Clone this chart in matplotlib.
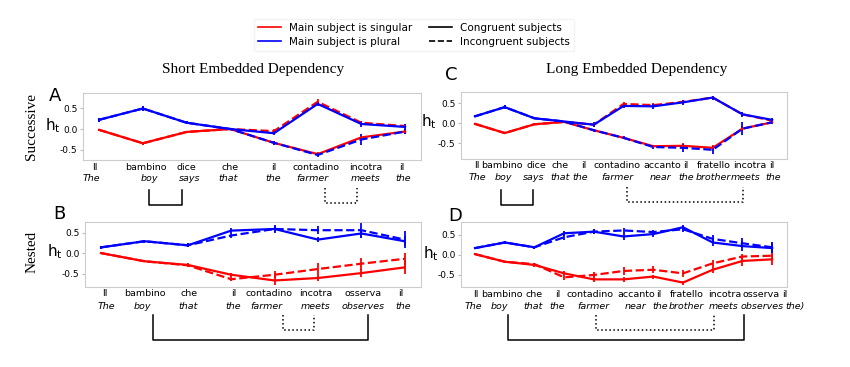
import numpy as np
import matplotlib
matplotlib.use('Agg')
import matplotlib.pyplot as plt
from matplotlib.lines import Line2D

plt.rcParams['mathtext.fontset'] = 'dejavusans'
plt.rcParams['axes.unicode_minus'] = False

# word labels (Italian / English gloss)
words_A = ['Il', 'bambino', 'dice', 'che', 'il', 'contadino', 'incotra', 'il']
eng_A = ['The', 'boy', 'says', 'that', 'the', 'farmer', 'meets', 'the']
words_B = ['Il', 'bambino', 'che', 'il', 'contadino', 'incotra', 'osserva', 'il']
eng_B = ['The', 'boy', 'that', 'the', 'farmer', 'meets', 'observes', 'the']
words_C = ['Il', 'bambino', 'dice', 'che', 'il', 'contadino', 'accanto', 'il', 'fratello', 'incotra', 'il']
eng_C = ['The', 'boy', 'says', 'that', 'the', 'farmer', 'near', 'the', 'brother', 'meets', 'the']
words_D = ['Il', 'bambino', 'che', 'il', 'contadino', 'accanto', 'il', 'fratello', 'incotra', 'osserva', 'il']
eng_D = ['The', 'boy', 'that', 'the', 'farmer', 'near', 'the', 'brother', 'meets', 'observes', 'the)']

# A: successive, short
A_sing_cong = [-0.02, -0.34, -0.07, 0.0, -0.33, -0.60, -0.20, -0.06]
A_sing_incong = [-0.02, -0.34, -0.07, 0.0, -0.05, 0.65, 0.15, 0.07]
A_plur_cong = [0.22, 0.49, 0.15, 0.0, -0.10, 0.60, 0.12, 0.05]
A_plur_incong = [0.22, 0.49, 0.15, 0.0, -0.33, -0.62, -0.25, -0.06]
A_sing_cong_err = [0.02, 0.04, 0.02, 0.02, 0.05, 0.04, 0.04, 0.06]
A_sing_incong_err = [0.02, 0.04, 0.02, 0.02, 0.06, 0.06, 0.05, 0.05]
A_plur_cong_err = [0.05, 0.06, 0.03, 0.02, 0.05, 0.05, 0.06, 0.08]
A_plur_incong_err = [0.05, 0.06, 0.03, 0.02, 0.05, 0.05, 0.13, 0.06]

# B: nested, short
B_sing_cong = [0.0, -0.20, -0.29, -0.53, -0.67, -0.61, -0.49, -0.35]
B_sing_incong = [0.0, -0.20, -0.30, -0.64, -0.53, -0.39, -0.26, -0.14]
B_plur_cong = [0.14, 0.29, 0.19, 0.55, 0.59, 0.33, 0.48, 0.29]
B_plur_incong = [0.14, 0.29, 0.19, 0.43, 0.59, 0.56, 0.56, 0.33]
B_sing_cong_err = [0.02, 0.03, 0.04, 0.05, 0.10, 0.08, 0.10, 0.17]
B_sing_incong_err = [0.02, 0.03, 0.04, 0.05, 0.08, 0.14, 0.15, 0.14]
B_plur_cong_err = [0.04, 0.04, 0.05, 0.06, 0.10, 0.06, 0.12, 0.12]
B_plur_incong_err = [0.04, 0.04, 0.05, 0.06, 0.08, 0.10, 0.18, 0.20]

# C: successive, long
C_sing_cong = [-0.02, -0.25, -0.03, 0.03, -0.18, -0.37, -0.58, -0.57, -0.62, -0.14, 0.02]
C_sing_incong = [-0.02, -0.25, -0.03, 0.03, -0.04, 0.48, 0.45, 0.53, 0.64, 0.22, 0.06]
C_plur_cong = [0.17, 0.40, 0.12, 0.04, -0.04, 0.43, 0.42, 0.52, 0.64, 0.22, 0.08]
C_plur_incong = [0.17, 0.40, 0.12, 0.04, -0.18, -0.37, -0.60, -0.62, -0.67, -0.14, 0.02]
C_sing_cong_err = [0.02, 0.03, 0.02, 0.02, 0.03, 0.03, 0.04, 0.06, 0.08, 0.06, 0.04]
C_sing_incong_err = [0.02, 0.03, 0.02, 0.02, 0.05, 0.04, 0.05, 0.05, 0.05, 0.05, 0.04]
C_plur_cong_err = [0.03, 0.05, 0.03, 0.02, 0.07, 0.05, 0.06, 0.06, 0.05, 0.06, 0.05]
C_plur_incong_err = [0.03, 0.05, 0.03, 0.02, 0.04, 0.04, 0.06, 0.10, 0.10, 0.17, 0.05]

# D: nested, long
D_sing_cong = [0.02, -0.17, -0.25, -0.46, -0.61, -0.61, -0.54, -0.69, -0.37, -0.15, -0.11]
D_sing_incong = [0.02, -0.17, -0.23, -0.56, -0.50, -0.40, -0.37, -0.46, -0.21, -0.04, -0.02]
D_plur_cong = [0.17, 0.31, 0.19, 0.54, 0.58, 0.46, 0.52, 0.69, 0.31, 0.22, 0.17]
D_plur_incong = [0.17, 0.31, 0.19, 0.44, 0.58, 0.61, 0.57, 0.64, 0.40, 0.29, 0.19]
D_sing_cong_err = [0.02, 0.03, 0.04, 0.05, 0.07, 0.06, 0.05, 0.05, 0.08, 0.12, 0.15]
D_sing_incong_err = [0.02, 0.03, 0.04, 0.07, 0.07, 0.09, 0.09, 0.08, 0.08, 0.06, 0.05]
D_plur_cong_err = [0.03, 0.04, 0.04, 0.06, 0.07, 0.08, 0.07, 0.06, 0.09, 0.13, 0.12]
D_plur_incong_err = [0.03, 0.04, 0.04, 0.06, 0.06, 0.06, 0.06, 0.07, 0.09, 0.12, 0.14]

# where the word labels sit along x (word index units), as typeset in the original
lab_A = ([-0.1, 1.08, 1.99, 2.99, 3.99, 4.96, 6.1, 6.93],
         [-0.17, 1.14, 2.07, 2.96, 3.98, 4.89, 6.09, 6.95])
lab_B = ([0.09, 1.0, 2.02, 3.07, 3.87, 4.95, 6.03, 6.92],
         [0.13, 0.96, 2.0, 3.04, 3.81, 4.94, 6.05, 6.97])
lab_C = ([0.07, 0.91, 2.05, 2.86, 3.67, 4.78, 6.3, 7.1, 8.05, 9.26, 10.0],
         [0.07, 0.94, 1.99, 2.86, 3.54, 4.78, 6.23, 7.1, 8.01, 9.12, 10.03])
lab_D = ([0.03, 0.90, 2.0, 2.79, 3.87, 5.41, 6.2, 7.14, 8.39, 9.62, 10.42],
         [-0.07, 0.83, 1.96, 2.77, 3.99, 5.41, 6.22, 7.12, 8.37, 9.65, 10.76])

panels = [
    ('A', [0.0976, 0.564, 0.398, 0.1826], words_A, eng_A, lab_A, (-5.2, -13.2),
     (-0.74, 0.86), (-0.37, 7.37),
     [(A_sing_cong, A_sing_cong_err), (A_sing_incong, A_sing_incong_err),
      (A_plur_cong, A_plur_cong_err), (A_plur_incong, A_plur_incong_err)],
     (-0.112, 0.52), (-0.1, 0.95),
     [(1.15, 1.9, -0.45, -0.67, '-'), (5.17, 5.9, -0.42, -0.64, ':')]),
    ('B', [0.1, 0.218, 0.395, 0.177], words_B, eng_B, lab_B, (-4.6, -13.7),
     (-0.83, 0.76), (-0.37, 7.37),
     [(B_sing_cong, B_sing_cong_err), (B_sing_incong, B_sing_incong_err),
      (B_plur_cong, B_plur_cong_err), (B_plur_incong, B_plur_incong_err)],
     (-0.112, 0.54), (-0.095, 1.13),
     [(1.19, 6.15, -0.43, -0.815, '-'), (4.2, 4.9, -0.43, -0.66, ':')]),
    ('C', [0.5424, 0.5668, 0.3835, 0.1826], words_C, eng_C, lab_C, (-4.8, -13.2),
     (-0.9, 0.78), (-0.47, 10.5),
     [(C_sing_cong, C_sing_cong_err), (C_sing_incong, C_sing_incong_err),
      (C_plur_cong, C_plur_cong_err), (C_plur_incong, C_plur_incong_err)],
     (-0.124, 0.55), (-0.05, 1.25),
     [(0.875, 1.95, -0.46, -0.69, '-'), (5.12, 9.02, -0.42, -0.64, ':')]),
    ('D', [0.5424, 0.218, 0.3835, 0.177], words_D, eng_D, lab_D, (-5.2, -14.3),
     (-0.8, 0.82), (-0.47, 10.5),
     [(D_sing_cong, D_sing_cong_err), (D_sing_incong, D_sing_incong_err),
      (D_plur_cong, D_plur_cong_err), (D_plur_incong, D_plur_incong_err)],
     (-0.116, 0.52), (-0.04, 1.1),
     [(1.11, 9.06, -0.43, -0.815, '-'), (4.07, 8.05, -0.43, -0.66, ':')]),
]

styles = [('red', '-'), ('red', '--'), ('blue', '-'), ('blue', '--')]

fig = plt.figure(figsize=(8.5, 3.67), dpi=100)

for (letter, rect, words, eng, lab, lab_dy, ylim, xlim, series,
     ht_pos, let_pos, brackets) in panels:
    ax = fig.add_axes(rect)
    x = np.arange(len(words))
    for (vals, err), (col, ls) in zip(series, styles):
        ax.errorbar(x, vals, yerr=err, color=col, ls=ls, lw=1.6, elinewidth=1.3, capsize=0)
    ax.set_xlim(*xlim)
    ax.set_ylim(*ylim)
    ax.set_yticks([-0.5, 0.0, 0.5])
    ax.set_yticklabels(['-0.5', '0.0', '0.5'])
    ax.set_xticks([])
    ax.tick_params(axis='y', length=2, labelsize=6.5, color='#bbbbbb', pad=2)
    for s in ax.spines.values():
        s.set_color('#cccccc')
    # two-line word labels: Italian, then English gloss in italics
    for w, xp in zip(words, lab[0]):
        ax.annotate(w, (xp, 0), xycoords=('data', 'axes fraction'), xytext=(0, lab_dy[0]),
                    textcoords='offset points', ha='center', va='center', fontsize=6.8,
                    annotation_clip=False)
    for e, xp in zip(eng, lab[1]):
        ax.annotate(e, (xp, 0), xycoords=('data', 'axes fraction'), xytext=(0, lab_dy[1]),
                    textcoords='offset points', ha='center', va='center', fontsize=6.8,
                    style='italic', annotation_clip=False)
    ax.text(ht_pos[0], ht_pos[1], 'h$_\\mathrm{t}$', transform=ax.transAxes, fontsize=11,
            ha='left', va='center')
    ax.text(let_pos[0], let_pos[1], letter, transform=ax.transAxes, fontsize=13,
            ha='left', va='center')
    trans = ax.get_xaxis_transform()
    for x0, x1, ytop, ybot, bls in brackets:
        ax.plot([x0, x0, x1, x1], [ytop, ybot, ybot, ytop], color='black', ls=bls,
                lw=1.1, transform=trans, clip_on=False)

fig.text(253 / 850, 1 - 70 / 367, 'Short Embedded Dependency', family='Liberation Serif',
         fontsize=11, ha='center', va='center')
fig.text(637 / 850, 1 - 70 / 367, 'Long Embedded Dependency', family='Liberation Serif',
         fontsize=11, ha='center', va='center')
fig.text(32 / 850, 1 - 127 / 367, 'Successive', family='Liberation Serif', fontsize=11,
         rotation=90, ha='center', va='center')
fig.text(32 / 850, 1 - 252 / 367, 'Nested', family='Liberation Serif', fontsize=11,
         rotation=90, ha='center', va='center')

handles = [Line2D([], [], color='red', lw=1.2), Line2D([], [], color='blue', lw=1.2),
           Line2D([], [], color='black', lw=1.2), Line2D([], [], color='black', lw=1.2, ls='--')]
labels = ['Main subject is singular', 'Main subject is plural',
          'Congruent subjects', 'Incongruent subjects']
leg = fig.legend(handles, labels, ncol=2, loc='center', bbox_to_anchor=(414 / 850, 1 - 35 / 367),
                 fontsize=7.5, frameon=True, handlelength=2.2, columnspacing=1.6,
                 labelspacing=0.4, borderpad=0.4)
leg.get_frame().set_edgecolor('#f0f0f0')

fig.savefig('out.png', dpi=100)
